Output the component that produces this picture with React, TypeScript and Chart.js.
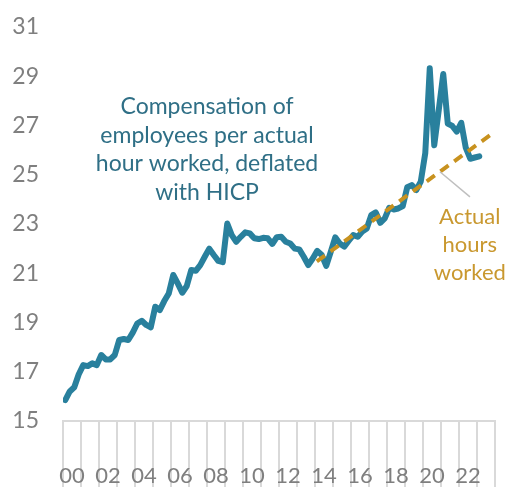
import React, { useEffect, useRef } from 'react';
import { Chart, registerables } from 'chart.js';

Chart.register(...registerables);

// Category labels (one per year 2000..2023)
const yearLabels = ['00', '', '02', '', '04', '', '06', '', '08', '', '10', '', '12', '', '14', '', '16', '', '18', '', '20', '', '22', ''];
const firstYear = 2000;

// Quarterly compensation per hour worked, deflated with HICP (2000Q1 .. 2023Q1)
const compensation = [
  15.85, 16.2, 16.37, 16.9,
  17.27, 17.23, 17.34, 17.27,
  17.68, 17.5, 17.5, 17.68,
  18.29, 18.33, 18.29, 18.59,
  18.96, 19.07, 18.9, 18.8,
  19.64, 19.5, 19.87, 20.18,
  20.93, 20.59, 20.21, 20.48,
  21.13, 21.1, 21.33, 21.67,
  22.0, 21.74, 21.5, 21.45,
  23.02, 22.55, 22.28, 22.48,
  22.66, 22.62, 22.42, 22.39,
  22.44, 22.42, 22.19, 22.46,
  22.48, 22.28, 22.21, 22.0,
  21.97, 21.67, 21.33, 21.6,
  21.91, 21.74, 21.3, 21.87,
  22.46, 22.21, 22.08, 22.32,
  22.55, 22.48, 22.69, 22.82,
  23.36, 23.47, 23.05, 23.23,
  23.66, 23.59, 23.63, 23.73,
  24.49, 24.58, 24.38, 24.72,
  25.87, 29.32, 26.2, 27.62,
  29.09, 27.08, 26.98, 26.75,
  27.11, 26.1, 25.65, 25.7,
  25.75,
];

// Trend based on actual hours worked
const trendYears = [2014.1, 2023.9];
const trendValues = [21.48, 26.7];

// Y axis
const yMin = 15;
const yMax = 31;
const yStep = 2;

// Annotations
const compLabel = ['Compensation of', 'employees per actual', 'hour worked, deflated', 'with HICP'];
const compLabelAt = { x: 2008.0, y: 27.76 };
const hoursLabel = ['Actual', 'hours', 'worked'];
const hoursLabelAt = { x: 2022.6, y: 23.27 };
const connector = { x1: 2020.94, y1: 25.12, x2: 2022.61, y2: 24.1 };

const TEAL = '#29809d';
const TEAL_TEXT = '#2f6f86';
const GOLD = '#c8921f';
const GOLD_TEXT = '#c9982f';
const GREY = '#7f7f7f';
const GRID = '#d9d9d9';
const FONT = 'Lato';

const annotationPlugin = {
  id: 'annotations',
  afterDraw(chart: any) {
    const { ctx, scales } = chart;
    const xs = scales.x;
    const ys = scales.y;
    ctx.save();
    // connector line
    ctx.strokeStyle = '#bfbfbf';
    ctx.lineWidth = 1.5;
    ctx.beginPath();
    ctx.moveTo(xs.getPixelForValue(connector.x1), ys.getPixelForValue(connector.y1));
    ctx.lineTo(xs.getPixelForValue(connector.x2), ys.getPixelForValue(connector.y2));
    ctx.stroke();

    ctx.textAlign = 'center';
    ctx.textBaseline = 'middle';
    ctx.font = `23px ${FONT}`;
    ctx.fillStyle = TEAL_TEXT;
    const cx = xs.getPixelForValue(compLabelAt.x);
    const cy = ys.getPixelForValue(compLabelAt.y);
    compLabel.forEach((t, i) => ctx.fillText(t, cx, cy + i * 28.5));

    ctx.font = `22px ${FONT}`;
    ctx.fillStyle = GOLD_TEXT;
    const hx = xs.getPixelForValue(hoursLabelAt.x);
    const hy = ys.getPixelForValue(hoursLabelAt.y);
    hoursLabel.forEach((t, i) => ctx.fillText(t, hx, hy + i * 28));
    ctx.restore();
  },
};

export default function App() {
  const canvasRef = useRef<HTMLCanvasElement | null>(null);

  useEffect(() => {
    if (!canvasRef.current) return;
    const compData = compensation.map((v, i) => ({ x: firstYear + i * 0.25 + 0.125, y: v }));
    const trendData = trendYears.map((x, i) => ({ x, y: trendValues[i] }));

    const chart = new Chart(canvasRef.current, {
      type: 'line',
      data: {
        datasets: [
          {
            label: 'Actual hours worked',
            data: trendData,
            xAxisID: 'x',
            yAxisID: 'y',
            borderColor: GOLD,
            borderWidth: 4,
            borderDash: [10, 7],
            pointRadius: 0,
            fill: false,
          },
          {
            label: 'Compensation of employees per actual hour worked, deflated with HICP',
            data: compData,
            xAxisID: 'x',
            yAxisID: 'y',
            borderColor: TEAL,
            borderWidth: 6,
            borderJoinStyle: 'round',
            borderCapStyle: 'round',
            pointRadius: 0,
            tension: 0,
            fill: false,
          },
        ],
      },
      options: {
        animation: false,
        responsive: false,
        maintainAspectRatio: false,
        layout: { padding: { top: 27, right: 10, left: 0, bottom: 0 } },
        plugins: { legend: { display: false }, tooltip: { enabled: false } },
        scales: {
          x: {
            type: 'linear',
            position: 'bottom',
            display: false,
            min: 2000,
            max: 2024,
          },
          xc: {
            type: 'category',
            axis: 'x',
            position: 'bottom',
            labels: yearLabels,
            offset: true,
            grid: {
              display: true,
              offset: true,
              drawOnChartArea: false,
              drawTicks: true,
              tickLength: 66,
              color: GRID,
              lineWidth: 2,
            },
            border: { display: true, color: GRID, width: 2 },
            ticks: {
              autoSkip: false,
              maxRotation: 0,
              minRotation: 0,
              padding: -24,
              color: GREY,
              font: { family: FONT, size: 22 },
            },
            afterFit: (scale: any) => {
              scale.height = 66;
            },
          },
          y: {
            type: 'linear',
            position: 'left',
            min: yMin,
            max: yMax,
            ticks: {
              stepSize: yStep,
              padding: 24,
              color: GREY,
              font: { family: FONT, size: 23 },
            },
            grid: { display: false, drawTicks: false },
            border: { display: false },
            afterFit: (scale: any) => {
              scale.width = 63;
              scale.paddingTop = 0;
              scale.paddingBottom = 0;
            },
          },
        },
      },
      plugins: [annotationPlugin],
    } as any);

    return () => chart.destroy();
  }, []);

  return (
    <div style={{ position: 'absolute', left: 0, top: 0, width: 505, height: 487 }}>
      <canvas ref={canvasRef} width={505} height={487} style={{ display: 'block' }} />
    </div>
  );
}
